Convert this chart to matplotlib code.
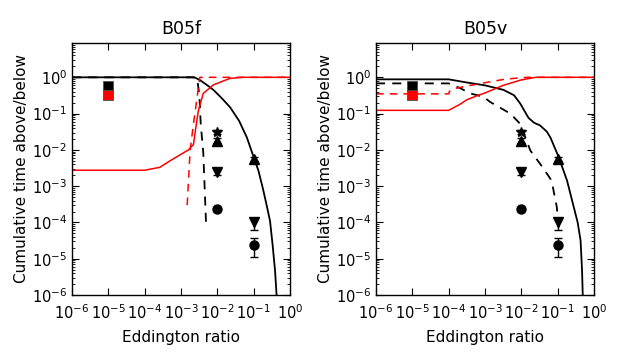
import matplotlib
matplotlib.use("Agg")
import matplotlib.pyplot as plt

# ---------------- data ----------------
# Panel B05f
f_black_solid_x = [1e-6, 2.0e-3, 2.45e-3, 3.3e-3, 5.0e-3, 7.8e-3, 1.26e-2, 2.24e-2, 3.98e-2, 6.5e-2,
                   1.0e-1, 1.35e-1, 1.78e-1, 2.24e-1, 2.82e-1, 3.31e-1, 3.89e-1, 4.27e-1]
f_black_solid_y = [1.0, 1.0, 0.98, 0.84, 0.63, 0.45, 0.28, 0.15, 0.063, 0.022,
                   6.3e-3, 2.7e-3, 8.9e-4, 3.2e-4, 1.1e-4, 2.5e-5, 4.5e-6, 1e-6]

f_black_dash_x = [1e-6, 2.5e-3, 2.8e-3, 3.2e-3, 3.5e-3, 4.1e-3, 4.9e-3]
f_black_dash_y = [1.0, 1.0, 0.9, 0.32, 0.05, 8.5e-3, 9.1e-5]

f_red_dash_x = [1.48e-3, 1.78e-3, 2.2e-3, 3.3e-3, 1.0]
f_red_dash_y = [3.0e-4, 9.5e-3, 5.2e-2, 1.0, 1.0]

f_red_solid_x = [1e-6, 1.0e-4, 2.6e-4, 5.0e-4, 1.6e-3, 2.2e-3, 2.5e-3, 3.0e-3, 4.1e-3, 7.8e-3, 2.2e-2, 5.0e-2, 1.0]
f_red_solid_y = [2.75e-3, 2.75e-3, 3.3e-3, 5.0e-3, 1.0e-2, 1.4e-2, 3.5e-2, 0.12, 0.36, 0.62, 0.93, 1.0, 1.0]

# Panel B05v
v_black_solid_x = [1e-6, 1.0e-4, 3.16e-4, 1.0e-3, 3.24e-3, 6.3e-3, 9.3e-3, 1.26e-2, 1.58e-2, 2.24e-2,
                   3.3e-2, 5.0e-2, 6.3e-2, 1.07e-1, 1.82e-1, 2.5e-1, 3.55e-1, 4.27e-1, 4.68e-1, 4.9e-1]
v_black_solid_y = [0.88, 0.88, 0.72, 0.60, 0.45, 0.32, 0.19, 0.112, 0.076, 0.056,
                   0.047, 0.032, 0.022, 6.3e-3, 1.4e-3, 4.0e-4, 1.0e-4, 3.2e-5, 5e-6, 1e-6]

v_black_dash_x = [1e-6, 1.0e-4, 2.1e-4, 3.9e-4, 9.1e-4, 1.38e-3, 3.16e-3, 5.0e-3, 9.3e-3, 1.29e-2,
                  1.78e-2, 3.3e-2, 6.3e-2, 7.1e-2, 9.5e-2, 1.07e-1]
v_black_dash_y = [0.68, 0.68, 0.5, 0.36, 0.29, 0.21, 0.13, 0.1, 0.052, 0.022,
                  9.5e-3, 4.1e-3, 1.6e-3, 1.15e-3, 2.6e-4, 5.8e-5]

v_red_dash_x = [1e-6, 1.0e-4, 1.05e-4, 1.23e-4, 1.6e-4, 3.16e-4, 1.0e-3, 3.16e-3, 1.0e-2, 1.6e-2, 1.0]
v_red_dash_y = [0.35, 0.35, 0.41, 0.46, 0.50, 0.575, 0.71, 0.87, 0.98, 1.0, 1.0]

v_red_solid_x = [1e-6, 1.0e-4, 2.0e-4, 3.16e-4, 6.3e-4, 1.0e-3, 3.16e-3, 1.0e-2, 2.5e-2, 1.0]
v_red_solid_y = [0.123, 0.123, 0.178, 0.24, 0.316, 0.37, 0.60, 0.85, 1.0, 1.0]

# Observed points (same in both panels)
sq_x = [1e-5]
sq_black_y = [0.59]
sq_red_y = [0.33]

star_x = [1e-2]
star_y = [3.1e-2]
star_err = [[0.4e-2], [0.5e-2]]

tri_up_x = [1e-2, 1e-1]
tri_up_y = [1.8e-2, 5.6e-3]
tri_up_err = [[0.3e-2, 0.8e-3], [0.3e-2, 0.9e-3]]

tri_dn_x = [1e-2, 1e-1]
tri_dn_y = [2.4e-3, 1.0e-4]
tri_dn_err = [[0.4e-3, 0.4e-4], [0.4e-3, 0.3e-4]]

circ_x = [1e-2, 1e-1]
circ_y = [2.4e-4, 2.45e-5]
circ_err = [[0.2e-4, 1.3e-5], [0.2e-4, 1.3e-5]]

panels = [
    ("B05f", (f_black_solid_x, f_black_solid_y), (f_black_dash_x, f_black_dash_y),
     (f_red_solid_x, f_red_solid_y), (f_red_dash_x, f_red_dash_y)),
    ("B05v", (v_black_solid_x, v_black_solid_y), (v_black_dash_x, v_black_dash_y),
     (v_red_solid_x, v_red_solid_y), (v_red_dash_x, v_red_dash_y)),
]

xticks = [1e-6, 1e-5, 1e-4, 1e-3, 1e-2, 1e-1, 1e0]
xticklabels = [r"$10^{-6}$", r"$10^{-5}$", r"$10^{-4}$", r"$10^{-3}$", r"$10^{-2}$", r"$10^{-1}$", r"$10^{0}$"]
yticks = [1e-6, 1e-5, 1e-4, 1e-3, 1e-2, 1e-1, 1e0]
yticklabels = [r"$10^{-6}$", r"$10^{-5}$", r"$10^{-4}$", r"$10^{-3}$", r"$10^{-2}$", r"$10^{-1}$", r"$10^{0}$"]

plt.rcParams['font.family'] = ['DejaVu Sans']
plt.rcParams['mathtext.default'] = 'regular'

fig = plt.figure(figsize=(6.23, 3.63), dpi=100)
lefts = [72 / 623, 376 / 623]
W = 218 / 623
B = 1 - 295 / 363
H = (295 - 42.7) / 363

for (title, bs, bd, rs, rd), left in zip(panels, lefts):
    ax = fig.add_axes([left, B, W, H])
    ax.set_xscale('log')
    ax.set_yscale('log')
    ax.plot(bs[0], bs[1], color='k', lw=1.3)
    ax.plot(bd[0], bd[1], color='k', lw=1.3, ls=(0, (5, 4)))
    ax.plot(rs[0], rs[1], color='red', lw=1.1)
    ax.plot(rd[0], rd[1], color='red', lw=1.1, ls=(0, (5, 4)))

    ax.plot(sq_x, sq_black_y, 's', color='k', ms=6.5, mec='0.3', mew=0.6, zorder=5)
    ax.plot(sq_x, sq_red_y, 's', color='red', ms=6.5, mec='0.3', mew=0.6, zorder=6)
    kw = dict(color='k', ecolor='k', elinewidth=1.0, capsize=3, capthick=1.0, ls='none', zorder=5)
    ax.errorbar(star_x, star_y, yerr=star_err, fmt='*', ms=7, **kw)
    ax.errorbar(tri_up_x, tri_up_y, yerr=tri_up_err, fmt='^', ms=6.5, **kw)
    ax.errorbar(tri_dn_x, tri_dn_y, yerr=tri_dn_err, fmt='v', ms=6.5, **kw)
    ax.errorbar(circ_x, circ_y, yerr=circ_err, fmt='o', ms=6.5, **kw)

    ax.set_xlim(1e-6, 1e0)
    ax.set_ylim(1e-6, 9.0)
    ax.set_xticks(xticks)
    ax.set_xticklabels(xticklabels)
    ax.set_yticks(yticks)
    ax.set_yticklabels(yticklabels)
    ax.tick_params(which='both', direction='in', top=True, right=True, labelsize=10.5)
    ax.tick_params(which='major', length=5, width=0.8)
    ax.tick_params(which='minor', length=2.5, width=0.6)
    ax.tick_params(axis='x', which='major', pad=6)
    for s in ax.spines.values():
        s.set_linewidth(1.0)
    ax.set_title(title, fontsize=12.5, pad=6)
    ax.set_xlabel("Eddington ratio", fontsize=11, labelpad=6)
    ax.set_ylabel("Cumulative time above/below", fontsize=11, labelpad=2)

fig.savefig("out.png", dpi=100)
